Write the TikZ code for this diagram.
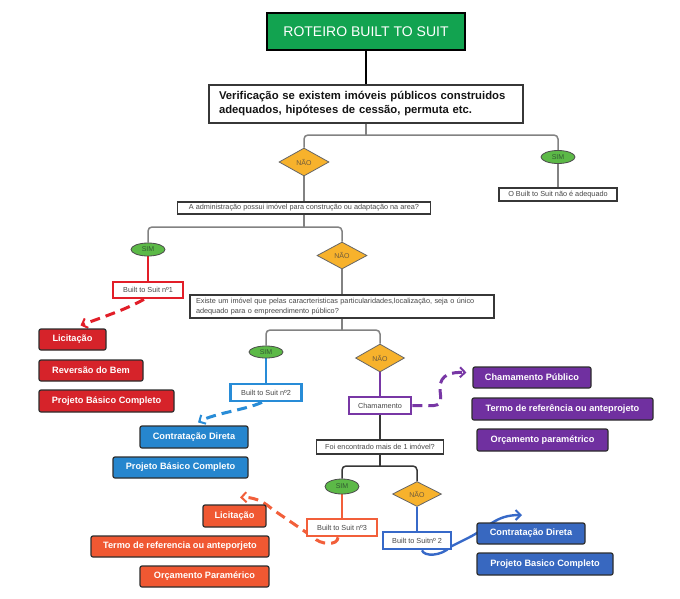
\documentclass[tikz,border=0pt]{standalone}
\usepackage{fontspec}
\setmainfont{Liberation Sans}
\usetikzlibrary{shapes.geometric,arrows.meta,calc}
\pgfdeclarelayer{bg}
\pgfsetlayers{bg,main}
\definecolor{tgreen}{RGB}{18,163,80}
\definecolor{simgreen}{RGB}{92,185,71}
\definecolor{naoorange}{RGB}{247,178,44}
\definecolor{cred}{RGB}{214,35,42}
\definecolor{clblue}{RGB}{38,134,206}
\definecolor{cpurple}{RGB}{112,48,160}
\definecolor{corange}{RGB}{240,88,50}
\definecolor{cdblue}{RGB}{56,104,192}
\definecolor{lred}{RGB}{226,30,40}
\definecolor{llblue}{RGB}{40,140,215}
\definecolor{lpurple}{RGB}{120,55,165}
\definecolor{lorange}{RGB}{242,95,58}
\definecolor{ldblue}{RGB}{55,105,200}
\definecolor{bordc}{RGB}{45,45,45}
\definecolor{txtgray}{RGB}{70,70,70}
\definecolor{vtxt}{RGB}{20,20,20}
\definecolor{lgline}{RGB}{130,130,130}
\definecolor{dgline}{RGB}{55,55,55}
\definecolor{naotxt}{RGB}{110,90,60}
\definecolor{simtxt}{RGB}{50,90,50}
\begin{document}
\begin{tikzpicture}[x=1pt,y=-1pt,
  titlebox/.style={rectangle, fill=tgreen, draw=black, line width=2.5pt, minimum width=198pt, minimum height=37pt, inner sep=0pt, text=white, font=\fontsize{14}{16}\selectfont},
  verifbox/.style={rectangle, fill=white, draw=dgline, line width=1.6pt, text width=294pt, inner xsep=10pt, inner ysep=0pt, minimum height=38pt, align=left, text=vtxt, font=\fontsize{11.3}{14}\selectfont\bfseries},
  qbox/.style={rectangle, fill=white, draw=dgline, line width=1.1pt, inner sep=0pt, text=txtgray, font=\fontsize{7.3}{9}\selectfont},
  btsbox/.style={rectangle, fill=white, line width=2.6pt, inner sep=0pt, text=txtgray, font=\fontsize{7.3}{9}\selectfont},
  cbox/.style={rectangle, rounded corners=2pt, draw=bordc, line width=1.2pt, inner sep=0pt, text=white, font=\fontsize{9.2}{11}\selectfont\bfseries},
  simnode/.style={ellipse, fill=simgreen, draw=black!70, line width=0.8pt, inner sep=0pt, minimum width=34pt, minimum height=13pt, text=simtxt, font=\fontsize{7}{8}\selectfont},
  naonode/.style={diamond, fill=naoorange, draw=black!60, line width=0.8pt, inner sep=0pt, minimum width=50pt, minimum height=28pt, text=naotxt, font=\fontsize{7}{8}\selectfont},
  gl/.style={draw=lgline, line width=1.5pt, rounded corners=4pt},
  dl/.style={draw=dgline, line width=1.5pt, rounded corners=4pt},
  cl/.style={line width=2.6pt},
  darrow/.style={line width=3pt, dash pattern=on 10pt off 6pt, -{Straight Barb[length=5pt,width=10pt,line width=2pt]}},
  sarrow/.style={line width=2.4pt, -{Straight Barb[length=5pt,width=10pt,line width=2pt]}}
]
\useasboundingbox (0,0) rectangle (680,598);

% top
\node[titlebox] (title) at (366,31.5) {ROTEIRO BUILT TO SUIT};
\node[verifbox] (verif) at (366,104) {Verificação se existem imóveis públicos construidos\\adequados, hipóteses de cessão, permuta etc.};
\coordinate (j1) at (366,135);
\node[naonode] (nao1) at (304,162) {NÃO};
\node[simnode] (sim1) at (558,157) {SIM};
\node[qbox, minimum width=118pt, minimum height=13pt] (notok) at (558,194.5) {O Built to Suit não é adequado};
\node[qbox, minimum width=253pt, minimum height=12pt] (admin) at (304,208) {A administração possui imóvel para construção ou adaptação na area?};
\coordinate (j2) at (304,227);

% level 2
\node[simnode] (sim2) at (148,249.5) {SIM};
\node[naonode, minimum height=27pt] (nao2) at (342,255.5) {NÃO};
\node[btsbox, draw=lred, minimum width=70pt, minimum height=16pt] (bts1) at (148,290) {Built to Suit nº1};
\node[cbox, fill=cred, minimum width=67pt, minimum height=21pt] (licit1) at (72.5,339.5) {Licitação};
\node[cbox, fill=cred, minimum width=104pt, minimum height=21pt] (reversao) at (91,370.5) {Reversão do Bem};
\node[cbox, fill=cred, minimum width=135pt, minimum height=22pt] (projeto1) at (106.5,401) {Projeto Básico Completo};
\node[qbox, text width=292pt, inner xsep=6pt, minimum height=23pt, align=left, font=\fontsize{7.3}{9.5}\selectfont] (existe) at (342,306.5) {Existe um imóvel que pelas caracrteristicas particularidades,localização, seja o único\\adequado para o empreendimento público?};
\coordinate (j3) at (342,330);

% level 3
\node[simnode, minimum height=12pt] (sim3) at (266,352) {SIM};
\node[naonode, minimum width=49pt] (nao3) at (380,358) {NÃO};
\node[btsbox, draw=llblue, minimum width=71pt, minimum height=17pt] (bts2) at (266,392.5) {Built to Suit nº2};
\node[cbox, fill=clblue, minimum width=108pt, minimum height=22pt] (contr1) at (194,437) {Contratação Direta};
\node[cbox, fill=clblue, minimum width=135pt, minimum height=21pt] (projeto2) at (180.5,467.5) {Projeto Básico Completo};
\node[btsbox, draw=lpurple, minimum width=62pt, minimum height=17pt] (cham) at (380,405.5) {Chamamento};
\node[cbox, fill=cpurple, minimum width=118pt, minimum height=21pt] (champub) at (532,377.5) {Chamamento Público};
\node[cbox, fill=cpurple, minimum width=181pt, minimum height=22pt] (termo1) at (562.5,409) {Termo de referência ou anteprojeto};
\node[cbox, fill=cpurple, minimum width=131pt, minimum height=22pt] (orcam1) at (542.5,440) {Orçamento paramétrico};
\node[qbox, minimum width=127pt, minimum height=14pt] (foi) at (380,447) {Foi encontrado mais de 1 imóvel?};
\coordinate (j4) at (380,466);

% level 4
\node[simnode, minimum height=15pt] (sim4) at (342,486.5) {SIM};
\node[naonode, minimum width=49pt, minimum height=25pt] (nao4) at (417,494) {NÃO};
\node[btsbox, draw=lorange, minimum width=70pt, minimum height=17pt] (bts3) at (342,527.5) {Built to Suit nº3};
\node[btsbox, draw=ldblue, minimum width=68pt, minimum height=17pt] (bts4) at (417,540.5) {Built to Suitnº 2};
\node[cbox, fill=corange, minimum width=63pt, minimum height=22pt] (licit2) at (234.5,516) {Licitação};
\node[cbox, fill=corange, minimum width=178pt, minimum height=21pt] (termo2) at (180,546.5) {Termo de referencia ou anteporjeto};
\node[cbox, fill=corange, minimum width=129pt, minimum height=21pt] (orcam2) at (204.5,576.5) {Orçamento Paramérico};
\node[cbox, fill=cdblue, minimum width=108pt, minimum height=21pt] (contr2) at (531,533.5) {Contratação Direta};
\node[cbox, fill=cdblue, minimum width=136pt, minimum height=22pt] (projeto3) at (545,564) {Projeto Basico Completo};

\begin{pgfonlayer}{bg}
  \fill[white] (0,0) rectangle (680,598);
  \draw[line width=2.5pt] (title.south) -- (verif.north);
  \draw[gl] (verif.south) -- (j1);
  \draw[gl] (nao1.north) |- (j1) -| (sim1.north);
  \draw[gl] (nao1.south) -- (admin.north);
  \draw[gl] (sim1.south) -- (notok.north);
  \draw[gl] (admin.south) -- (j2);
  \draw[gl] (sim2.north) |- (j2) -| (nao2.north);
  \draw[cl, draw=lred] (sim2.south) -- (bts1.north);
  \draw[gl] (nao2.south) -- (existe.north);
  \draw[gl] (existe.south) -- (j3);
  \draw[gl] (sim3.north) |- (j3) -| (nao3.north);
  \draw[cl, draw=llblue] (sim3.south) -- (bts2.north);
  \draw[cl, draw=lpurple] (nao3.south) -- (cham.north);
  \draw[dl] (cham.south) -- (foi.north);
  \draw[dl] (foi.south) -- (j4);
  \draw[dl] (sim4.north) |- (j4) -| (nao4.north);
  \draw[cl, draw=lorange] (sim4.south) -- (bts3.north);
  \draw[cl, draw=ldblue] (nao4.south) -- (bts4.north);

  % arrows
  \draw[darrow, draw=lred] ([xshift=-4pt]bts1.south) .. controls (125,310) and (100,318) .. ([xshift=8pt,yshift=3pt]licit1.north);
  \draw[darrow, draw=llblue] ([xshift=-4pt]bts2.south) .. controls (245,410) and (215,413) .. ([xshift=4pt,yshift=3pt]contr1.north);
  \draw[darrow, draw=lpurple] (cham.east) -- ++(16,0) .. controls (445,407) and (440,398) .. (440,388) .. controls (440,374) and (452,372) .. ([xshift=-6pt,yshift=5pt]champub.west);
  \draw[darrow, draw=lorange] ([xshift=-4pt]bts3.south) .. controls (338,546) and (320,545) .. (313,537) -- (272,509) .. controls (262,500) and (252,497) .. ([xshift=5.5pt,yshift=7pt]licit2.north);
  \draw[sarrow, draw=ldblue] ([xshift=5pt]bts4.south) .. controls (424,557) and (442,556) .. (450,547) -- (468,538) .. controls (490,527) and (495,515) .. (522,515);
\end{pgfonlayer}
\end{tikzpicture}
\end{document}
